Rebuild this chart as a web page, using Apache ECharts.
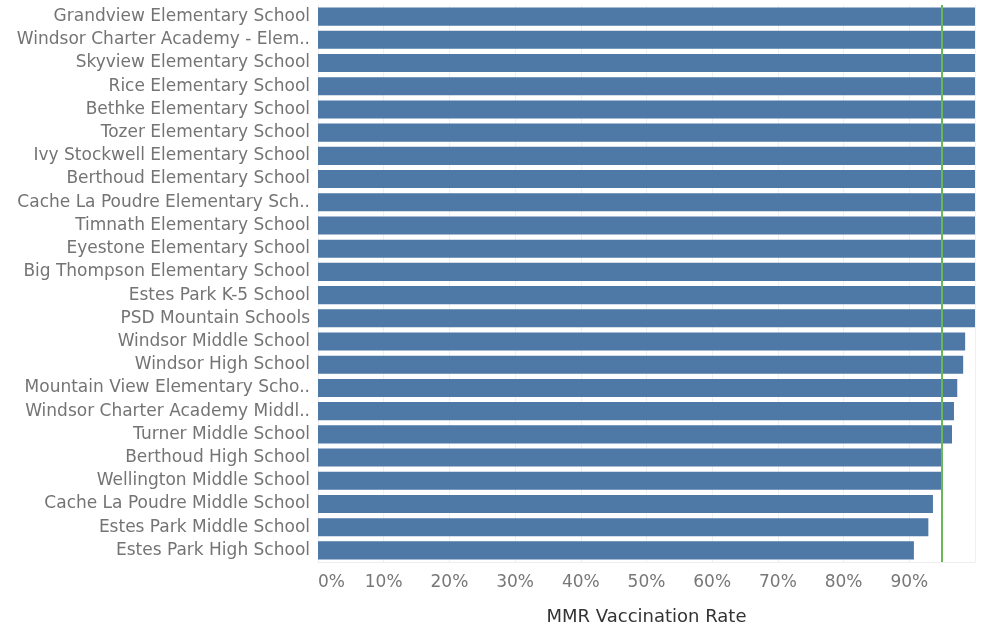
<!DOCTYPE html>
<html>
<head>
<meta charset="utf-8">
<script src="https://cdn.jsdelivr.net/npm/echarts@6/dist/echarts.min.js"></script>
<style>html,body{margin:0;padding:0;background:#fff}#c{width:984px;height:626px}</style>
</head>
<body>
<div id="c"></div>
<script>
const schools = [
  "Grandview Elementary School",
  "Windsor Charter Academy - Elem..",
  "Skyview Elementary School",
  "Rice Elementary School",
  "Bethke Elementary School",
  "Tozer Elementary School",
  "Ivy Stockwell Elementary School",
  "Berthoud Elementary School",
  "Cache La Poudre Elementary Sch..",
  "Timnath Elementary School",
  "Eyestone Elementary School",
  "Big Thompson Elementary School",
  "Estes Park K-5 School",
  "PSD Mountain Schools",
  "Windsor Middle School",
  "Windsor High School",
  "Mountain View Elementary Scho..",
  "Windsor Charter Academy Middl..",
  "Turner Middle School",
  "Berthoud High School",
  "Wellington Middle School",
  "Cache La Poudre Middle School",
  "Estes Park Middle School",
  "Estes Park High School"
];
const mmrRate = [100, 100, 100, 100, 100, 100, 100, 100, 100, 100, 100, 100, 100, 100,
  98.5, 98.2, 97.3, 96.8, 96.5, 95.0, 95.0, 93.6, 92.9, 90.7];
const targetRate = 95;

const chart = echarts.init(document.getElementById('c'));
chart.setOption({
  animation: false,
  grid: { left: 318, right: 9, top: 5, bottom: 64, outerBoundsMode: 'none', containLabel: false },
  xAxis: {
    type: 'value', min: 0, max: 100, interval: 10,
    name: 'MMR Vaccination Rate', nameLocation: 'middle', nameGap: 46,
    nameTextStyle: { color: '#333', fontSize: 18, fontFamily: 'DejaVu Sans' },
    axisLine: { show: true, lineStyle: { color: '#eeeeee' } }, axisTick: { show: false },
    splitLine: { show: true, lineStyle: { color: '#f0f0f0', width: 1 } },
    axisLabel: {
      color: '#777', fontSize: 17, fontFamily: 'DejaVu Sans', margin: 12,
      showMaxLabel: false, alignMinLabel: 'left',
      formatter: v => v + '%'
    }
  },
  yAxis: {
    type: 'category', data: schools, inverse: true,
    axisLine: { show: true, lineStyle: { color: '#eeeeee' } }, axisTick: { show: false },
    axisLabel: { color: '#747474', fontSize: 17, fontFamily: 'DejaVu Sans', margin: 8 }
  },
  series: [{
    type: 'bar', data: mmrRate, barCategoryGap: '22%',
    itemStyle: { color: '#4e79a7' },
    markLine: {
      symbol: 'none', silent: true, label: { show: false },
      lineStyle: { color: '#6ab75a', width: 2, type: 'solid' },
      data: [{ xAxis: targetRate }]
    }
  }]
});
</script>
</body>
</html>
